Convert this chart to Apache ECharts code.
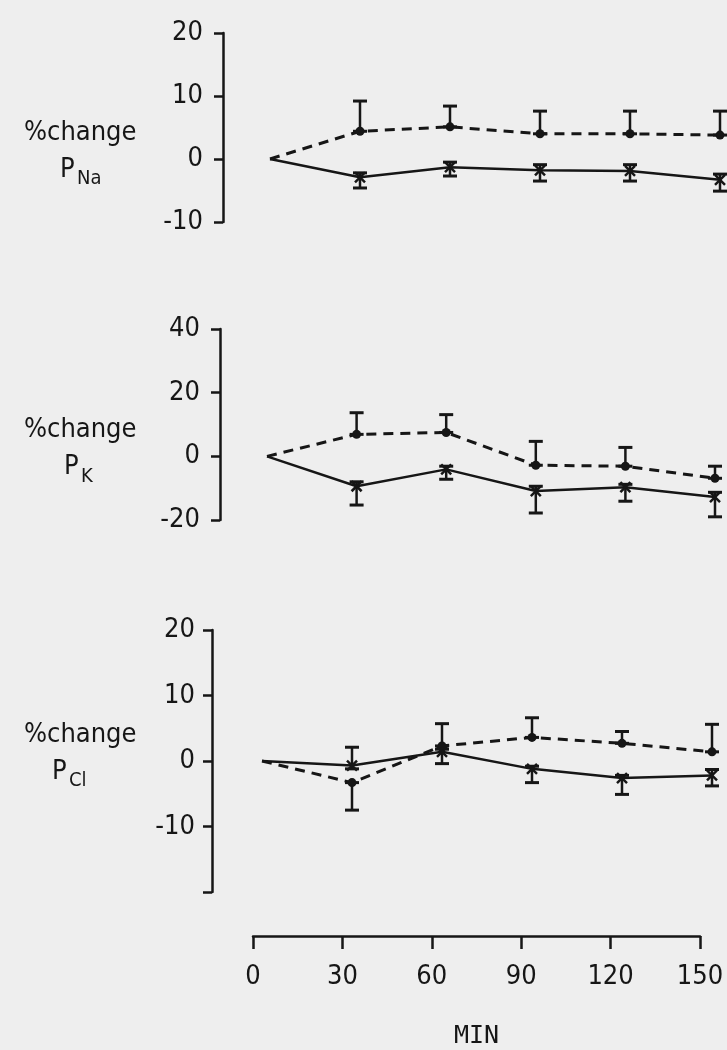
<!DOCTYPE html>
<html><head><meta charset="utf-8">
<script src="https://cdn.jsdelivr.net/npm/echarts@6/dist/echarts.min.js"></script>
<style>html,body{margin:0;padding:0;background:#eeeeee}#c{width:727px;height:1050px}</style>
</head><body><div id="c"></div>
<script>
// ---- data ----
const minutes = [0, 30, 60, 90, 120, 150];
const xTickLabels = ['0', '30', '60', '90', '120', '150'];

// P_Na
const naDashed   = [0, 4.4, 5.1, 4.0, 4.0, 3.8];
const naDashedLo = [null, 4.4, 5.1, 4.0, 4.0, 3.8];
const naDashedHi = [null, 9.2, 8.4, 7.6, 7.6, 7.6];
const naSolid    = [0, -2.9, -1.3, -1.8, -1.9, -3.3];
const naSolidLo  = [null, -4.6, -2.7, -3.5, -3.5, -5.1];
const naSolidHi  = [null, -2.2, -0.5, -0.9, -0.9, -2.4];

// P_K
const kDashed   = [0, 6.9, 7.5, -2.8, -3.1, -6.9];
const kDashedLo = [null, 6.9, 7.5, -2.8, -3.1, -6.9];
const kDashedHi = [null, 13.7, 13.1, 4.7, 2.8, -3.1];
const kSolid    = [0, -9.4, -4.1, -10.9, -9.7, -12.8];
const kSolidLo  = [null, -15.3, -7.2, -17.8, -14.1, -19.0];
const kSolidHi  = [null, -8.0, -3.1, -9.4, -8.8, -11.3];

// P_Cl
const clDashed   = [0, -3.3, 2.3, 3.6, 2.7, 1.4];
const clDashedLo = [null, -7.5, 2.3, 3.6, 2.7, 1.4];
const clDashedHi = [null, -3.3, 5.7, 6.6, 4.5, 5.6];
const clSolid    = [0, -0.7, 1.4, -1.2, -2.6, -2.2];
const clSolidLo  = [null, -1.2, -0.4, -3.3, -5.1, -3.8];
const clSolidHi  = [null, 2.1, 1.8, -0.8, -2.2, -1.3];

const yLabelMain = '%change';
const panelNames = [['P', 'Na'], ['P', 'K'], ['P', 'Cl']];
const xAxisTitle = 'MIN';

// ---- layout / style ----
const INK = '#161616';
const FONT = "'DejaVu Sans Condensed', 'DejaVu Sans', sans-serif";
const panels = [
  { grid: {left: 270, top: 33, width: 450, height: 189}, min: -10, max: 20, interval: 10, offset: 47, margin: 20,
    d: naDashed, dLo: naDashedLo, dHi: naDashedHi, s: naSolid, sLo: naSolidLo, sHi: naSolidHi, hide: null },
  { grid: {left: 267, top: 329, width: 448, height: 191}, min: -20, max: 40, interval: 20, offset: 47, margin: 20,
    d: kDashed, dLo: kDashedLo, dHi: kDashedHi, s: kSolid, sLo: kSolidLo, sHi: kSolidHi, hide: null },
  { grid: {left: 262, top: 630, width: 450, height: 262}, min: -20, max: 20, interval: 10, offset: 50, margin: 17,
    d: clDashed, dLo: clDashedLo, dHi: clDashedHi, s: clSolid, sLo: clSolidLo, sHi: clSolidHi, hide: -20 }
];

function pairs(ys) { return minutes.map((m, i) => [m, ys[i]]); }
function errData(ys, lo, hi) {
  const out = [];
  minutes.forEach((m, i) => { if (lo[i] !== null && hi[i] !== null) out.push([m, ys[i], lo[i], hi[i]]); });
  return out;
}
function errRender(kind) {
  return function (params, api) {
    const x = api.value(0);
    const m = api.coord([x, api.value(1)]);
    const lo = api.coord([x, api.value(2)]);
    const hi = api.coord([x, api.value(3)]);
    const cw = 7;
    const st = {stroke: INK, lineWidth: 2.5, fill: null};
    const ch = [
      {type: 'line', shape: {x1: m[0], y1: lo[1], x2: m[0], y2: hi[1]}, style: st},
      {type: 'line', shape: {x1: m[0] - cw, y1: lo[1], x2: m[0] + cw, y2: lo[1]}, style: Object.assign({}, st, {lineWidth: 3})},
      {type: 'line', shape: {x1: m[0] - cw, y1: hi[1], x2: m[0] + cw, y2: hi[1]}, style: Object.assign({}, st, {lineWidth: 3})}
    ];
    if (kind === 'dot') {
      ch.push({type: 'circle', shape: {cx: m[0], cy: m[1], r: 4.5}, style: {fill: INK}});
    } else {
      const s = 5;
      ch.push({type: 'line', shape: {x1: m[0] - s, y1: m[1] - s, x2: m[0] + s, y2: m[1] + s}, style: st});
      ch.push({type: 'line', shape: {x1: m[0] - s, y1: m[1] + s, x2: m[0] + s, y2: m[1] - s}, style: st});
    }
    return {type: 'group', children: ch};
  };
}

const grid = [], xAxis = [], yAxis = [], series = [], graphic = [];
panels.forEach((p, i) => {
  grid.push(p.grid);
  xAxis.push({type: 'value', gridIndex: i, min: 0, max: 150, interval: 30, show: false});
  yAxis.push({
    type: 'value', gridIndex: i, min: p.min, max: p.max, interval: p.interval, offset: p.offset,
    splitLine: {show: false},
    axisLine: {show: true, onZero: false, lineStyle: {color: INK, width: 2.5}},
    axisTick: {show: true, length: 9, lineStyle: {color: INK, width: 2.5}},
    axisLabel: {margin: p.margin, color: INK, fontSize: 27, fontFamily: FONT,
      formatter: v => (p.hide !== null && v === p.hide) ? '' : String(v)}
  });
  series.push({type: 'line', xAxisIndex: i, yAxisIndex: i, data: pairs(p.d), symbol: 'none',
    lineStyle: {color: INK, width: 3, type: [10, 7]}, z: 2});
  series.push({type: 'line', xAxisIndex: i, yAxisIndex: i, data: pairs(p.s), symbol: 'none',
    lineStyle: {color: INK, width: 2.5}, z: 2});
  series.push({type: 'custom', xAxisIndex: i, yAxisIndex: i, data: errData(p.d, p.dLo, p.dHi),
    renderItem: errRender('dot'), z: 3, clip: false});
  series.push({type: 'custom', xAxisIndex: i, yAxisIndex: i, data: errData(p.s, p.sLo, p.sHi),
    renderItem: errRender('cross'), z: 3, clip: false});

  // y titles
  const y0 = p.grid.top + p.grid.height * (p.max / (p.max - p.min));
  graphic.push({type: 'text', left: 24, top: y0 - 40,
    style: {text: yLabelMain, font: '27px ' + FONT, fill: INK}});
  const pl = [60, 64, 52][i];
  graphic.push({type: 'text', left: pl, top: y0 - 3,
    style: {text: panelNames[i][0], font: '27px ' + FONT, fill: INK}});
  graphic.push({type: 'text', left: pl + 17, top: y0 + 10,
    style: {text: panelNames[i][1], font: '20px ' + FONT, fill: INK}});
});

// bottom time axis
grid.push({left: 253, top: 900, width: 447, height: 40});
xAxis.push({
  type: 'value', gridIndex: 3, min: 0, max: 150, interval: 30, position: 'bottom',
  splitLine: {show: false},
  axisLine: {show: true, onZero: false, lineStyle: {color: INK, width: 2.5}},
  axisTick: {show: true, length: 13, lineStyle: {color: INK, width: 2.5}},
  axisLabel: {margin: 27, color: INK, fontSize: 27, fontFamily: FONT,
    formatter: v => xTickLabels[minutes.indexOf(v)]},
  name: xAxisTitle, nameLocation: 'middle', nameGap: 88,
  nameTextStyle: {color: INK, fontSize: 25, fontFamily: "'DejaVu Sans Mono', 'Liberation Mono', monospace"}
});
yAxis.push({type: 'value', gridIndex: 3, show: false, min: 0, max: 1});

const chart = echarts.init(document.getElementById('c'), null, {renderer: 'canvas'});
chart.setOption({
  backgroundColor: '#eeeeee',
  animation: false,
  grid, xAxis, yAxis, series, graphic
});
</script>
</body></html>
